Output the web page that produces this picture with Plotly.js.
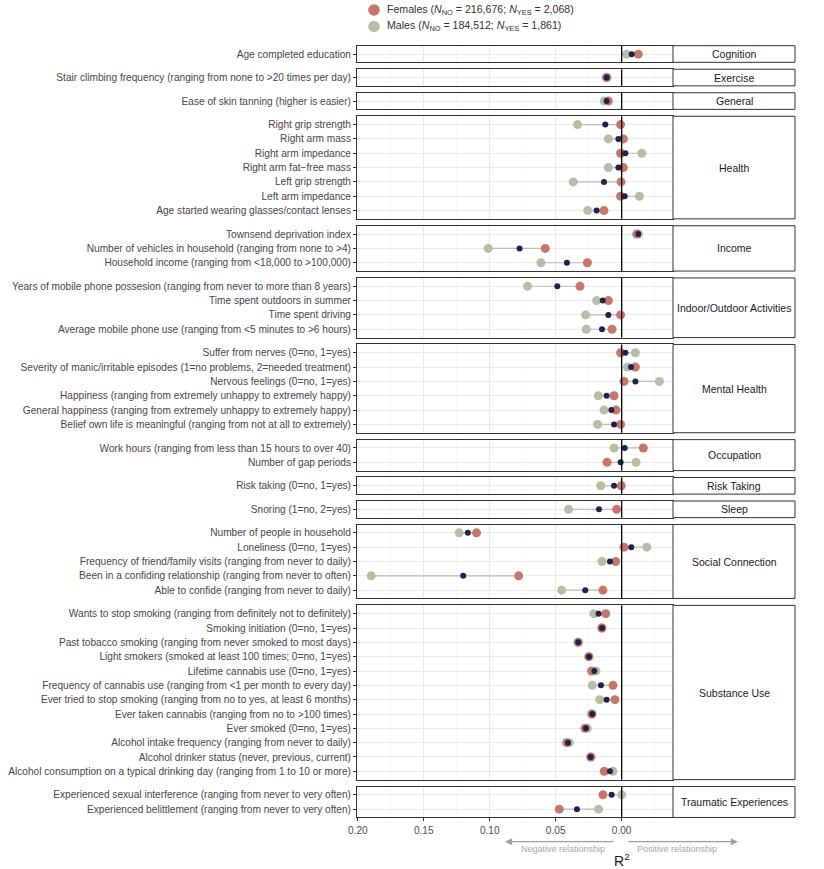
<!DOCTYPE html>
<html><head><meta charset="utf-8">
<script src="https://cdn.plot.ly/plotly-3.0.1.min.js"></script>
<style>html,body{margin:0;padding:0;background:#fff}#chart{width:824px;height:869px}</style>
</head><body><div id="chart"></div>
<script>
const groups = ['Cognition','Exercise','General','Health','Income','Indoor/Outdoor Activities','Mental Health','Occupation','Risk Taking','Sleep','Social Connection','Substance Use','Traumatic Experiences'];
const groupSizes = [1,1,1,7,3,4,6,2,1,1,5,12,2];
const variables = [
 'Age completed education',
 'Stair climbing frequency (ranging from none to >20 times per day)',
 'Ease of skin tanning (higher is easier)',
 'Right grip strength','Right arm mass','Right arm impedance','Right arm fat\u2212free mass','Left grip strength','Left arm impedance','Age started wearing glasses/contact lenses',
 'Townsend deprivation index','Number of vehicles in household (ranging from none to >4)','Household income (ranging from <18,000 to >100,000)',
 'Years of mobile phone possesion (ranging from never to more than 8 years)','Time spent outdoors in summer','Time spent driving','Average mobile phone use (ranging from <5 minutes to >6 hours)',
 'Suffer from nerves (0=no, 1=yes)','Severity of manic/irritable episodes (1=no problems, 2=needed treatment)','Nervous feelings (0=no, 1=yes)','Happiness (ranging from extremely unhappy to extremely happy)','General happiness (ranging from extremely unhappy to extremely happy)','Belief own life is meaningful (ranging from not at all to extremely)',
 'Work hours (ranging from less than 15 hours to over 40)','Number of gap periods',
 'Risk taking (0=no, 1=yes)',
 'Snoring (1=no, 2=yes)',
 'Number of people in household','Loneliness (0=no, 1=yes)','Frequency of friend/family visits (ranging from never to daily)','Been in a confiding relationship (ranging from never to often)','Able to confide (ranging from never to daily)',
 'Wants to stop smoking (ranging from definitely not to definitely)','Smoking initiation (0=no, 1=yes)','Past tobacco smoking (ranging from never smoked to most days)','Light smokers (smoked at least 100 times; 0=no, 1=yes)','Lifetime cannabis use (0=no, 1=yes)','Frequency of cannabis use (ranging from <1 per month to every day)','Ever tried to stop smoking (ranging from no to yes, at least 6 months)','Ever taken cannabis (ranging from no to >100 times)','Ever smoked (0=no, 1=yes)','Alcohol intake frequency (ranging from never to daily)','Alcohol drinker status (never, previous, current)','Alcohol consumption on a typical drinking day (ranging from 1 to 10 or more)',
 'Experienced sexual interference (ranging from never to very often)','Experienced belittlement (ranging from never to very often)'
];
// signed R2 (negative = negative relationship)
const femaleR2 = [0.0126,-0.0112,-0.0101,-0.0008,0.0013,-0.0008,0.0013,-0.0005,-0.0008,-0.0134,0.0114,-0.0579,-0.0260,-0.0316,-0.0101,-0.0008,-0.0073,-0.0008,0.0104,0.0018,-0.0058,-0.0043,-0.0008,0.0164,-0.0111,-0.0003,-0.0038,-0.1100,0.0018,-0.0046,-0.0781,-0.0142,-0.0121,-0.0149,-0.0329,-0.0248,-0.0228,-0.0066,-0.0051,-0.0225,-0.0278,-0.0417,-0.0235,-0.0132,-0.0142,-0.0473];
const maleR2 = [0.0038,-0.0118,-0.0132,-0.0334,-0.0101,0.0152,-0.0101,-0.0367,0.0134,-0.0258,0.0128,-0.1012,-0.0612,-0.0713,-0.0190,-0.0273,-0.0268,0.0104,0.0043,0.0286,-0.0177,-0.0134,-0.0182,-0.0058,0.0109,-0.0159,-0.0402,-0.1232,0.0190,-0.0149,-0.1899,-0.0455,-0.0210,-0.0152,-0.0331,-0.0250,-0.0195,-0.0223,-0.0167,-0.0228,-0.0260,-0.0397,-0.0232,-0.0066,0.0000,-0.0175];
const combinedR2 = [0.0076,-0.0114,-0.0114,-0.0124,-0.0025,0.0028,-0.0025,-0.0134,0.0023,-0.0190,0.0126,-0.0774,-0.0415,-0.0488,-0.0144,-0.0101,-0.0149,0.0028,0.0071,0.0104,-0.0114,-0.0078,-0.0058,0.0023,-0.0008,-0.0058,-0.0172,-0.1166,0.0073,-0.0089,-0.1201,-0.0276,-0.0175,-0.0149,-0.0329,-0.0248,-0.0207,-0.0157,-0.0114,-0.0223,-0.0271,-0.0407,-0.0235,-0.0089,-0.0076,-0.0339];
const xTickVals = [-0.2,-0.15,-0.1,-0.05,0];
const xTickText = ['0.20','0.15','0.10','0.05','0.00'];
const xMinorVals = [-0.175,-0.125,-0.075,-0.025,0.025];
const legendLabels = ['Females (<i>N</i><sub>NO</sub> = 216,676; <i>N</i><sub>YES</sub> = 2,068)',
                      'Males (<i>N</i><sub>NO</sub> = 184,512; <i>N</i><sub>YES</sub> = 1,861)'];

const colF = '#C9766A', colM = '#B5BFA6', colC = '#1E2350', colSeg = '#BDBDBD';
const esc = s => s.replace(/&/g,'&amp;').replace(/</g,'&lt;').replace(/>/g,'&gt;');

const W = 824, H = 869, mL = 357, mR = 29, mT = 46, mB = 51;
const PH = H - mT - mB, PW = W - mL - mR;
const u = 14.33, pad = 0.58, gap = 6.9;
const panelRight = (673 - mL) / PW;
const xRange = [-0.2006, 0.0389];
const px2x = p => (p - mL) / PW, px2y = p => 1 - (p - mT) / PH;

const traces = [], shapes = [], annotations = [];
const layout = {
  width: W, height: H,
  margin: {l: mL, r: mR, t: mT, b: mB},
  paper_bgcolor: '#fff', plot_bgcolor: '#fff',
  font: {family: 'Liberation Sans, Arial, sans-serif', color: '#333'},
  showlegend: false,
  shapes: shapes, annotations: annotations
};

let start = 0, py = 45.7 - mT;
groups.forEach((g, i) => {
  const n = groupSizes[i];
  const labs = variables.slice(start, start + n).map(esc);
  const F = femaleR2.slice(start, start + n), M = maleR2.slice(start, start + n), C = combinedR2.slice(start, start + n);
  start += n;
  const h = (n - 1 + 2 * pad) * u;
  const y1 = 1 - py / PH, y0 = 1 - (py + h) / PH;
  py += h + gap;
  const k = i + 1, sfx = k === 1 ? '' : String(k);
  const xa = 'x' + sfx, ya = 'y' + sfx;
  const last = i === groups.length - 1;

  const sx = [], sy = [];
  labs.forEach((l, j) => {
    sx.push(Math.min(F[j], M[j], C[j]), Math.max(F[j], M[j], C[j]), null);
    sy.push(l, l, null);
  });
  traces.push({type: 'scatter', mode: 'lines', x: sx, y: sy, xaxis: xa, yaxis: ya,
    line: {color: colSeg, width: 1.2}, hoverinfo: 'skip'});
  traces.push({type: 'scatter', mode: 'markers', x: M, y: labs, xaxis: xa, yaxis: ya, name: 'Males',
    marker: {color: colM, size: 9, line: {width: 0}}});
  traces.push({type: 'scatter', mode: 'markers', x: F, y: labs, xaxis: xa, yaxis: ya, name: 'Females',
    marker: {color: colF, size: 9, line: {width: 0}}});
  traces.push({type: 'scatter', mode: 'markers', x: C, y: labs, xaxis: xa, yaxis: ya, name: 'All',
    marker: {color: colC, size: 6, line: {width: 0}}});

  layout['xaxis' + sfx] = {
    domain: [0, panelRight], anchor: ya, range: xRange, tickmode: 'array', tickvals: xTickVals, ticktext: xTickText,
    showticklabels: last, ticks: last ? 'outside' : '', ticklen: 3, tickcolor: '#333', tickwidth: 1,
    tickfont: {size: 10.1, color: '#4d4d4d'},
    showgrid: true, gridcolor: '#e9e9e9', gridwidth: 1,
    minor: {tickmode: 'array', tickvals: xMinorVals, showgrid: true, gridcolor: '#f3f3f3', gridwidth: 0.7, ticks: ''},
    zeroline: false, showline: true, mirror: true, linecolor: '#333', linewidth: 1, fixedrange: true
  };
  layout['yaxis' + sfx] = {
    domain: [y0, y1], anchor: xa, type: 'category', categoryorder: 'array', categoryarray: labs,
    range: [n - 1 + pad, -pad], ticks: 'outside', ticklen: 3, tickcolor: '#333', tickwidth: 1,
    tickfont: {size: 10.15, color: '#474747'}, showgrid: true, gridcolor: '#ebebeb', gridwidth: 1,
    zeroline: false, showline: true, mirror: true, linecolor: '#333', linewidth: 1, automargin: false, fixedrange: true
  };
  shapes.push({type: 'line', xref: xa, yref: ya + ' domain', x0: 0, x1: 0, y0: 0, y1: 1,
    line: {color: '#000', width: 1.3}, layer: 'above'});
  shapes.push({type: 'rect', xref: 'paper', yref: 'paper', x0: panelRight, x1: 1, y0: y0, y1: y1,
    fillcolor: '#fff', line: {color: '#333', width: 1}, layer: 'above'});
  annotations.push({xref: 'paper', yref: 'paper', x: (panelRight + 1) / 2, y: (y0 + y1) / 2, text: g,
    showarrow: false, xanchor: 'center', yanchor: 'middle', font: {size: 10.5, color: '#1a1a1a'}});
});

// legend (drawn manually to match spacing)
[[colF, 10], [colM, 26.5]].forEach(([c, yy], j) => {
  shapes.push({type: 'circle', xref: 'paper', yref: 'paper', xsizemode: 'pixel', ysizemode: 'pixel',
    xanchor: px2x(374), yanchor: px2y(yy), x0: -5.8, x1: 5.8, y0: -5.8, y1: 5.8,
    fillcolor: c, line: {width: 0}});
  annotations.push({xref: 'paper', yref: 'paper', x: px2x(385), y: px2y(yy), text: legendLabels[j], showarrow: false,
    xanchor: 'left', yanchor: 'middle', font: {size: 10.6, color: '#333'}});
});

// x-axis title and relationship arrows
annotations.push({xref: 'paper', yref: 'paper', x: px2x(621.7), y: px2y(860), text: 'R<sup>2</sup>', showarrow: false,
  xanchor: 'center', yanchor: 'middle', font: {size: 14, color: '#1a1a1a'}});
const yArrow = px2y(841.7), yTxt = px2y(849.5);
annotations.push({xref: 'paper', yref: 'paper', x: px2x(505), y: yArrow, ax: 110, ay: 0, axref: 'pixel', ayref: 'pixel',
  text: '', showarrow: true, arrowhead: 2, arrowsize: 1.1, arrowwidth: 1.3, arrowcolor: '#9e9e9e'});
annotations.push({xref: 'paper', yref: 'paper', x: px2x(738), y: yArrow, ax: -111, ay: 0, axref: 'pixel', ayref: 'pixel',
  text: '', showarrow: true, arrowhead: 2, arrowsize: 1.1, arrowwidth: 1.3, arrowcolor: '#9e9e9e'});
annotations.push({xref: 'paper', yref: 'paper', x: px2x(563), y: yTxt, text: 'Negative relationship', showarrow: false,
  xanchor: 'center', yanchor: 'middle', font: {size: 9, color: '#a8a8a8'}});
annotations.push({xref: 'paper', yref: 'paper', x: px2x(677), y: yTxt, text: 'Positive relationship', showarrow: false,
  xanchor: 'center', yanchor: 'middle', font: {size: 9, color: '#a8a8a8'}});

Plotly.newPlot('chart', traces, layout, {displayModeBar: false, staticPlot: true});
</script></body></html>
